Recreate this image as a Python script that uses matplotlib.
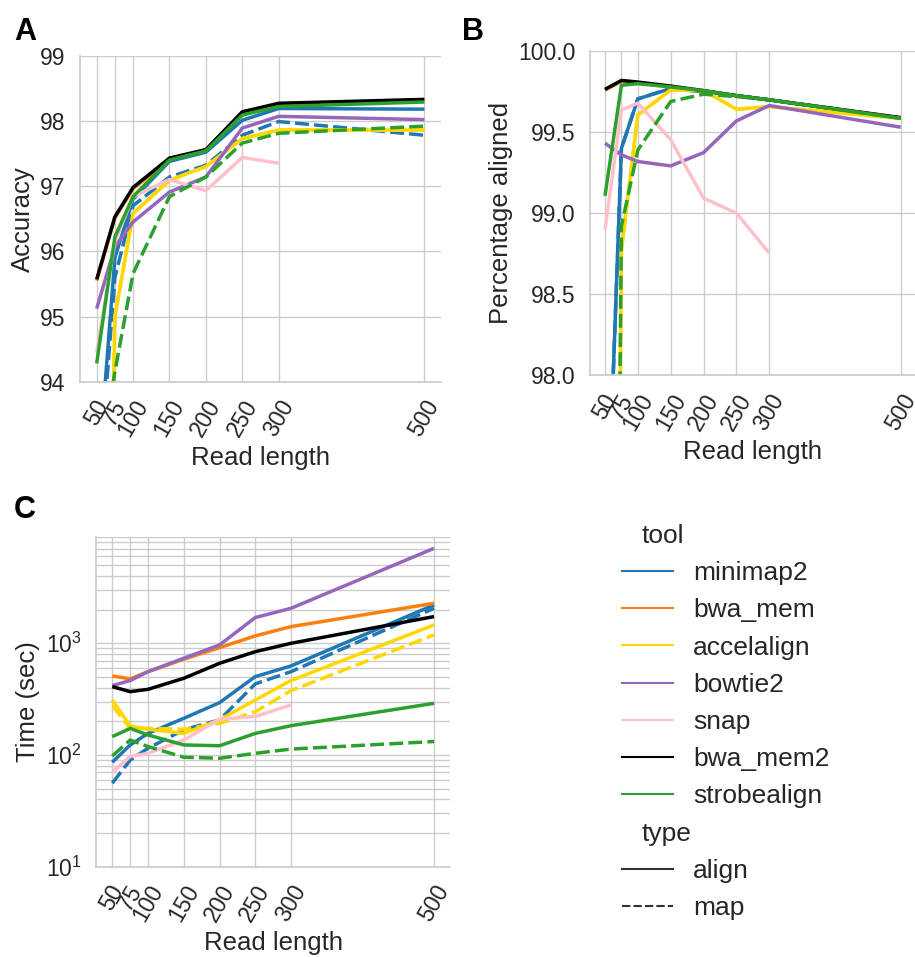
import numpy as np
import matplotlib
matplotlib.use("Agg")
import matplotlib.pyplot as plt
from matplotlib.lines import Line2D
import matplotlib.offsetbox as mob

# ---------------- data ----------------
read_lengths = [50, 75, 100, 150, 200, 250, 300, 500]
snap_lengths = [50, 75, 100, 150, 200, 250, 300]
tick_labels = ["50", "75", "100", "150", "200", "250", "300", "500"]

tools = ["minimap2", "bwa_mem", "accelalign", "bowtie2", "snap", "bwa_mem2", "strobealign"]
tool_colors = ["#1f77b4", "#ff7f0e", "#ffd700", "#9467bd", "#ffc0cb", "#000000", "#2ca02c"]
types = ["align", "map"]

# Panel A: accuracy
acc_minimap2_align = [92.3, 95.9, 96.80, 97.38, 97.52, 98.01, 98.19, 98.18]
acc_minimap2_map = [92.0, 95.6, 96.70, 97.14, 97.32, 97.78, 97.99, 97.78]
acc_bwa_mem_align = [95.55, 96.51, 96.96, 97.41, 97.55, 98.13, 98.26, 98.32]
acc_accelalign_align = [80.0, 95.0, 96.58, 97.09, 97.30, 97.73, 97.86, 97.86]
acc_accelalign_map = [80.0, 95.0, 96.58, 97.09, 97.30, 97.73, 97.86, 97.86]
acc_bowtie2_align = [95.12, 96.07, 96.45, 96.91, 97.14, 97.89, 98.07, 98.02]
acc_snap_align = [94.45, 96.15, 96.84, 97.10, 96.93, 97.44, 97.35]
acc_bwa_mem2_align = [95.57, 96.53, 96.98, 97.43, 97.56, 98.14, 98.27, 98.33]
acc_strobealign_align = [94.28, 96.22, 96.84, 97.40, 97.54, 98.09, 98.22, 98.29]
acc_strobealign_map = [92.5, 94.15, 95.66, 96.84, 97.14, 97.66, 97.81, 97.92]

# Panel B: percentage aligned
pct_minimap2_align = [96.6, 99.40, 99.706, 99.77, 99.75, 99.726, 99.70, 99.586]
pct_minimap2_map = [96.6, 99.40, 99.706, 99.77, 99.75, 99.726, 99.70, 99.586]
pct_bwa_mem_align = [99.76, 99.815, 99.805, 99.78, 99.755, 99.725, 99.70, 99.59]
pct_accelalign_align = [87.5, 98.77, 99.607, 99.761, 99.757, 99.642, 99.658, 99.586]
pct_accelalign_map = [87.5, 98.77, 99.607, 99.761, 99.757, 99.642, 99.658, 99.586]
pct_bowtie2_align = [99.432, 99.36, 99.319, 99.292, 99.374, 99.57, 99.665, 99.531]
pct_snap_align = [98.897, 99.638, 99.68, 99.453, 99.093, 99.0, 98.753]
pct_bwa_mem2_align = [99.765, 99.82, 99.81, 99.785, 99.757, 99.726, 99.70, 99.59]
pct_strobealign_align = [99.107, 99.79, 99.80, 99.78, 99.757, 99.726, 99.70, 99.586]
pct_strobealign_map = [88.0, 98.92, 99.39, 99.69, 99.735, 99.72, 99.70, 99.586]

# Panel C: time (sec)
time_minimap2_align = [86, 123, 156, 213, 294, 503, 627, 2203]
time_minimap2_map = [56, 90, 115, 168, 206, 433, 557, 2057]
time_bwa_mem_align = [510, 480, 557, 720, 914, 1164, 1410, 2280]
time_accelalign_align = [311, 182, 170, 156, 206, 311, 464, 1459]
time_accelalign_map = [277, 173, 173, 170, 192, 244, 377, 1188]
time_bowtie2_align = [418, 464, 557, 735, 966, 1700, 2057, 7080]
time_snap_align = [70, 97, 103.5, 136, 209, 221, 281]
time_bwa_mem2_align = [409, 369, 387, 486, 662, 841, 1000, 1734]
time_strobealign_align = [146, 173, 151, 123, 121, 156, 183, 290]
time_strobealign_map = [98, 136, 119, 95.5, 93.5, 103.5, 113, 132]

series_A = {
    ("minimap2", "align"): acc_minimap2_align, ("minimap2", "map"): acc_minimap2_map,
    ("bwa_mem", "align"): acc_bwa_mem_align,
    ("accelalign", "align"): acc_accelalign_align, ("accelalign", "map"): acc_accelalign_map,
    ("bowtie2", "align"): acc_bowtie2_align, ("snap", "align"): acc_snap_align,
    ("bwa_mem2", "align"): acc_bwa_mem2_align,
    ("strobealign", "align"): acc_strobealign_align, ("strobealign", "map"): acc_strobealign_map,
}
series_B = {
    ("minimap2", "align"): pct_minimap2_align, ("minimap2", "map"): pct_minimap2_map,
    ("bwa_mem", "align"): pct_bwa_mem_align,
    ("accelalign", "align"): pct_accelalign_align, ("accelalign", "map"): pct_accelalign_map,
    ("bowtie2", "align"): pct_bowtie2_align, ("snap", "align"): pct_snap_align,
    ("bwa_mem2", "align"): pct_bwa_mem2_align,
    ("strobealign", "align"): pct_strobealign_align, ("strobealign", "map"): pct_strobealign_map,
}
series_C = {
    ("minimap2", "align"): time_minimap2_align, ("minimap2", "map"): time_minimap2_map,
    ("bwa_mem", "align"): time_bwa_mem_align,
    ("accelalign", "align"): time_accelalign_align, ("accelalign", "map"): time_accelalign_map,
    ("bowtie2", "align"): time_bowtie2_align, ("snap", "align"): time_snap_align,
    ("bwa_mem2", "align"): time_bwa_mem2_align,
    ("strobealign", "align"): time_strobealign_align, ("strobealign", "map"): time_strobealign_map,
}

# ---------------- style ----------------
TXT = "#262626"
plt.rcParams.update({
    "font.family": ["Liberation Sans", "DejaVu Sans"],
    "mathtext.default": "regular",
    "axes.edgecolor": "#cccccc",
    "axes.linewidth": 1.25,
    "grid.color": "#cccccc",
    "grid.linewidth": 1.0,
    "text.color": TXT,
    "axes.labelcolor": TXT,
    "xtick.color": TXT,
    "ytick.color": TXT,
    "xtick.major.size": 0, "ytick.major.size": 0,
    "xtick.minor.size": 0, "ytick.minor.size": 0,
    "xtick.major.pad": 10.5, "ytick.major.pad": 10.5,
    "xtick.labelsize": 16.5, "ytick.labelsize": 16.5,
    "axes.labelsize": 18.5,
})

W, H = 915, 957
fig = plt.figure(figsize=(W / 100, H / 100), dpi=100)

def rect(l, t, r, b):
    return [l / W, 1 - b / H, (r - l) / W, (b - t) / H]

axA = fig.add_axes(rect(80.3, 55.7, 440.7, 381.7))
axB = fig.add_axes(rect(590.2, 51.3, 915.5, 375.0))
axC = fig.add_axes(rect(96.2, 536.6, 450.1, 866.7))

LW = 2.5
dash_map = (4, 1.5)

def draw(ax, series):
    for tool, col in zip(tools, tool_colors):
        for typ in types:
            key = (tool, typ)
            if key not in series:
                continue
            y = series[key]
            x = read_lengths[:len(y)]
            if typ == "align":
                ax.plot(x, y, color=col, lw=LW, solid_capstyle="butt")
            else:
                ax.plot(x, y, color=col, lw=LW, dashes=dash_map)

for ax, series in ((axA, series_A), (axB, series_B), (axC, series_C)):
    draw(ax, series)
    ax.set_axisbelow(True)
    ax.grid(True, which="major", color="#cccccc", lw=1.0)
    for s in ("top", "right"):
        ax.spines[s].set_visible(False)
    ax.set_xticks(read_lengths)
    ax.set_xticklabels(tick_labels, rotation=60)
    ax.set_xlim(50 - 22.5, 500 + 22.5)
    ax.set_xlabel("Read length")

axA.set_ylim(94, 99)
axA.set_yticks([94, 95, 96, 97, 98, 99])
axA.set_ylabel("Accuracy")

axB.set_ylim(98.0, 100.0)
axB.set_yticks([98.0, 98.5, 99.0, 99.5, 100.0])
axB.set_yticklabels(["98.0", "98.5", "99.0", "99.5", "100.0"])
axB.set_ylabel("Percentage aligned")

axC.set_yscale("log")
axC.set_ylim(10, 10 ** 3.955)
axC.grid(True, which="minor", color="#cccccc", lw=1.0)
axC.set_ylabel("Time (sec)")

for ax in (axA, axB, axC):
    for sp in ("left", "bottom"):
        ax.spines[sp].set_color("#cccccc")

# panel letters
fig.text(14 / W, 1 - 40 / H, "A", fontsize=22, fontweight="bold", color="black")
fig.text(462 / W, 1 - 40 / H, "B", fontsize=22, fontweight="bold", color="black")
fig.text(14 / W, 1 - 518 / H, "C", fontsize=22, fontweight="bold", color="black")

# legend
handles, labels = [], []
handles.append(Line2D([], [], visible=False)); labels.append("tool")
for tool, col in zip(tools, tool_colors):
    handles.append(Line2D([], [], color=col, lw=1.5)); labels.append(tool)
handles.append(Line2D([], [], visible=False)); labels.append("type")
handles.append(Line2D([], [], color="#333333", lw=1.5)); labels.append("align")
handles.append(Line2D([], [], color="#333333", lw=1.5, dashes=dash_map)); labels.append("map")

leg = fig.legend(handles, labels, loc="upper left", bbox_to_anchor=(622 / W, 1 - 524 / H),
                 frameon=False, fontsize=19, handlelength=1.95, handletextpad=0.75,
                 labelspacing=0.5, borderaxespad=0, borderpad=0)
hpackers = leg.findobj(mob.VPacker)[0].get_children()
for hpack in hpackers:
    draw_area, text_area = hpack.get_children()
    arts = draw_area.get_children()
    if not all(a.get_visible() for a in arts):
        draw_area.set_width(0)

fig.savefig("out.png", dpi=100)
